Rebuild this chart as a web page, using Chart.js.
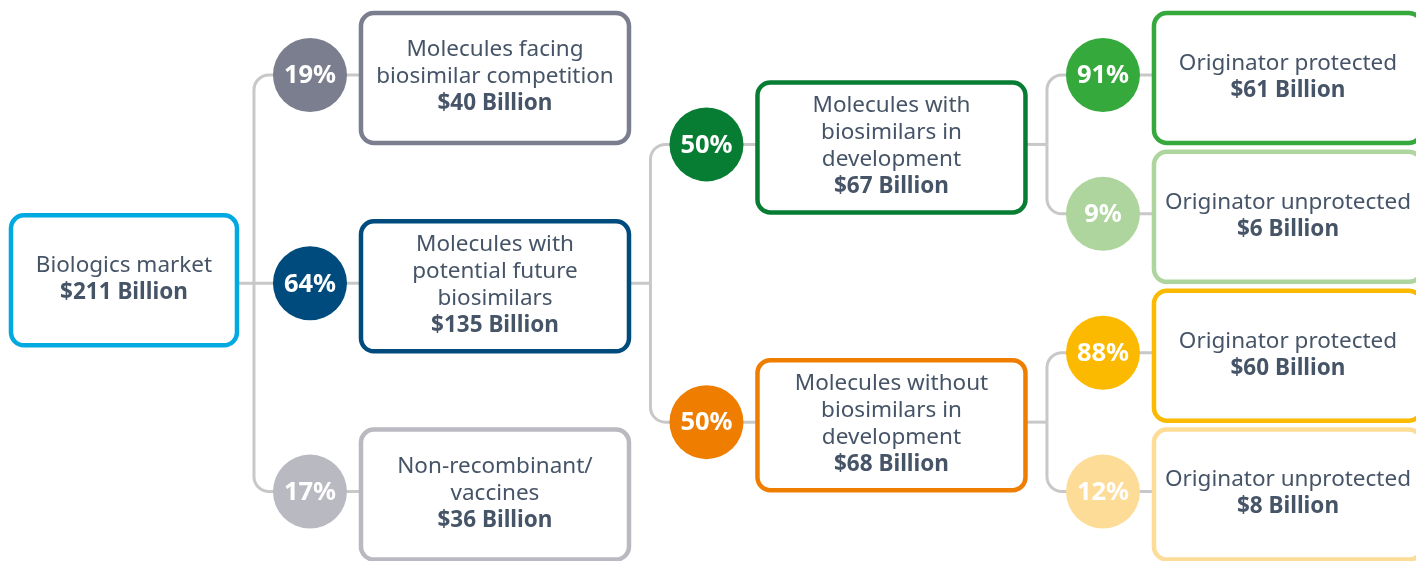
<!DOCTYPE html>
<html lang="en">
<head>
<meta charset="UTF-8">
<title>Biologics market breakdown</title>
<script src="https://cdn.jsdelivr.net/npm/chart.js"></script>
<style>
    html, body { margin: 0; padding: 0; background: #fff; }
    #wrap { width: 1416px; height: 561px; }
</style>
</head>
<body>
<div id="wrap"><canvas id="tree"></canvas></div>
<script>
    // one entry per box, lines as printed
    const nodeNames = [
        ['Biologics market'],
        ['Molecules facing', 'biosimilar competition'],
        ['Molecules with', 'potential future', 'biosimilars'],
        ['Non-recombinant/', 'vaccines'],
        ['Molecules with', 'biosimilars in', 'development'],
        ['Molecules without', 'biosimilars in', 'development'],
        ['Originator protected'],
        ['Originator unprotected'],
        ['Originator protected'],
        ['Originator unprotected']
    ];
    const nodeValues = [211, 40, 135, 36, 67, 68, 61, 6, 60, 8];      // $ billion
    const nodeShares = [null, 19, 64, 17, 50, 50, 91, 9, 88, 12];     // % of parent
    const nodeParent = [-1, 0, 0, 0, 2, 2, 4, 4, 5, 5];
    const nodeColors = ['#00a9e0', '#7b7e8e', '#004b7d', '#b9b9c1', '#077d33',
                        '#ef7e00', '#35a93b', '#aed59d', '#fbb900', '#fddc98'];

    // --- layout: column = depth in the tree, row = position of the branch
    const children = nodeParent.map((_, i) => nodeParent.map((p, j) => p === i ? j : -1).filter(j => j >= 0));
    const depthOf = i => nodeParent[i] < 0 ? 0 : depthOf(nodeParent[i]) + 1;
    const depths = nodeParent.map((_, i) => depthOf(i));
    const maxDepth = Math.max(...depths);

    // end boxes of the last column take rows 0,1,2..., parents sit between their children,
    // a childless box further left goes to the first or last row
    const rows = [];
    let nextRow = 0;
    function assignLeaves(i) {
        if (children[i].length) children[i].forEach(assignLeaves);
        else if (depths[i] === maxDepth) rows[i] = nextRow++;
    }
    assignLeaves(0);
    nodeParent.forEach((p, i) => {
        if (!children[i].length && rows[i] === undefined) {
            const sibs = children[p];
            rows[i] = sibs.indexOf(i) < sibs.length / 2 ? 0 : nextRow - 1;
        }
    });
    function settle(i) {
        if (!children[i].length) return;
        children[i].forEach(settle);
        rows[i] = children[i].reduce((s, c) => s + rows[c], 0) / children[i].length;
    }
    settle(0);

    const circlePoints = [];
    const circleColors = [];
    nodeShares.forEach((s, i) => {
        if (s === null) return;
        circlePoints.push({ x: depths[i], y: rows[i], node: i });
        circleColors.push(nodeColors[i]);
    });

    const R = 37, BOX_GAP = 51, BOX_W = 268, BOX_H = 130, ROOT_W = 226, TRUNK = 56, CORNER = 15;
    const TEXT = '#465467', LINK = '#c8c8c8';
    const FONT = '"Noto Sans", "Open Sans", sans-serif';

    function geom(chart, i) {
        const xs = chart.scales.x, ys = chart.scales.y;
        const cx = xs.getPixelForValue(depths[i]);
        const cy = ys.getPixelForValue(rows[i]);
        let left, w, shift;
        if (depths[i] === 0) {
            const right = xs.getPixelForValue(1) - TRUNK - 17;
            w = ROOT_W; left = right - w; shift = -3;
        } else {
            left = cx + BOX_GAP; w = BOX_W; shift = 3;
        }
        return { cx, cy, left, right: left + w, w, top: cy + shift - BOX_H / 2, h: BOX_H };
    }

    const treePlugin = {
        id: 'tree',
        beforeDatasetsDraw(chart) {
            const ctx = chart.ctx;
            ctx.save();
            ctx.strokeStyle = LINK;
            ctx.lineWidth = 3;
            ctx.lineJoin = 'round';
            children.forEach((kids, p) => {
                if (!kids.length) return;
                const pg = geom(chart, p);
                const trunkX = chart.scales.x.getPixelForValue(depths[p] + 1) - TRUNK;
                ctx.beginPath();
                ctx.moveTo(pg.right, pg.cy);
                ctx.lineTo(trunkX, pg.cy);
                ctx.stroke();
                kids.forEach(k => {
                    const g = geom(chart, k);
                    ctx.beginPath();
                    if (Math.abs(g.cy - pg.cy) < 1) {
                        ctx.moveTo(trunkX, g.cy);
                    } else {
                        const dir = g.cy < pg.cy ? 1 : -1;
                        ctx.moveTo(trunkX, pg.cy);
                        ctx.lineTo(trunkX, g.cy + dir * CORNER);
                        ctx.arcTo(trunkX, g.cy, trunkX + CORNER, g.cy, CORNER);
                    }
                    ctx.lineTo(g.left, g.cy);
                    ctx.stroke();
                });
            });
            ctx.restore();
        },
        afterDatasetsDraw(chart) {
            const ctx = chart.ctx;
            ctx.save();
            nodeNames.forEach((lines, i) => {
                const g = geom(chart, i);
                ctx.beginPath();
                ctx.roundRect(g.left, g.top, g.w, g.h, 13);
                ctx.fillStyle = '#fff';
                ctx.fill();
                ctx.lineWidth = 4.5;
                ctx.strokeStyle = nodeColors[i];
                ctx.stroke();

                const all = lines.concat(['$' + nodeValues[i] + ' Billion']);
                const mid = g.top + g.h / 2 - 1;
                ctx.textAlign = 'center';
                ctx.textBaseline = 'middle';
                ctx.fillStyle = TEXT;
                all.forEach((t, k) => {
                    ctx.font = (k === all.length - 1 ? 'bold ' : '') + '22.5px ' + FONT;
                    ctx.fillText(t, (g.left + g.right) / 2, mid + (k - (all.length - 1) / 2) * 27);
                });
            });
            const meta = chart.getDatasetMeta(0);
            ctx.fillStyle = '#fff';
            ctx.font = 'bold 25.5px ' + FONT;
            meta.data.forEach((pt, k) => {
                const i = circlePoints[k].node;
                ctx.fillText(nodeShares[i] + '%', pt.x, pt.y + 1);
            });
            ctx.restore();
        }
    };

    new Chart(document.getElementById('tree'), {
        type: 'scatter',
        data: {
            datasets: [{
                data: circlePoints,
                pointRadius: R,
                pointHoverRadius: R,
                pointBorderWidth: 0,
                pointBackgroundColor: circleColors,
                pointHoverBackgroundColor: circleColors,
                clip: false
            }]
        },
        options: {
            responsive: true,
            maintainAspectRatio: false,
            animation: false,
            events: [],
            layout: { padding: 0, autoPadding: false },
            plugins: { legend: { display: false }, tooltip: { enabled: false } },
            scales: {
                x: { type: 'linear', display: false, min: 0.2182, max: 3.7895 },
                y: { type: 'linear', display: false, min: -0.54, max: 3.5, reverse: true }
            }
        },
        plugins: [treePlugin]
    });
</script>
</body>
</html>
